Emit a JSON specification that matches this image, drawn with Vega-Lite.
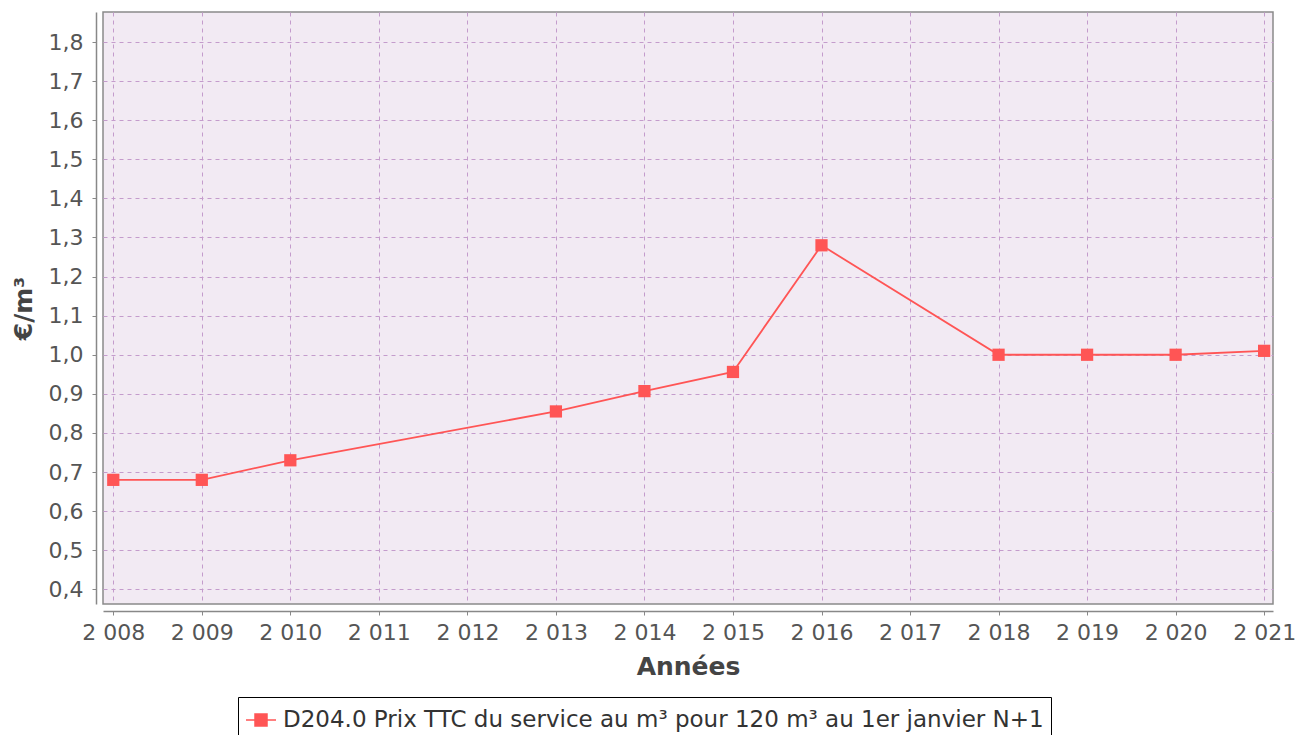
{
  "$schema": "https://vega.github.io/schema/vega-lite/v6.json",
  "autosize": "none",
  "padding": {"left": 103, "top": 12, "right": 25, "bottom": 131},
  "width": 1170,
  "height": 592,
  "background": "white",
  "view": {"fill": "#f2eaf3", "stroke": "#8a8a8a", "strokeWidth": 1.5},
  "config": {"font": "DejaVu Sans"},
  "data": {"values": [
    {"annee": 2008, "prix": 0.68, "serie": "D204.0 Prix TTC du service au m³ pour 120 m³ au 1er janvier N+1"},
    {"annee": 2009, "prix": 0.68, "serie": "D204.0 Prix TTC du service au m³ pour 120 m³ au 1er janvier N+1"},
    {"annee": 2010, "prix": 0.73, "serie": "D204.0 Prix TTC du service au m³ pour 120 m³ au 1er janvier N+1"},
    {"annee": 2013, "prix": 0.855, "serie": "D204.0 Prix TTC du service au m³ pour 120 m³ au 1er janvier N+1"},
    {"annee": 2014, "prix": 0.907, "serie": "D204.0 Prix TTC du service au m³ pour 120 m³ au 1er janvier N+1"},
    {"annee": 2015, "prix": 0.956, "serie": "D204.0 Prix TTC du service au m³ pour 120 m³ au 1er janvier N+1"},
    {"annee": 2016, "prix": 1.28, "serie": "D204.0 Prix TTC du service au m³ pour 120 m³ au 1er janvier N+1"},
    {"annee": 2018, "prix": 1.0, "serie": "D204.0 Prix TTC du service au m³ pour 120 m³ au 1er janvier N+1"},
    {"annee": 2019, "prix": 1.0, "serie": "D204.0 Prix TTC du service au m³ pour 120 m³ au 1er janvier N+1"},
    {"annee": 2020, "prix": 1.0, "serie": "D204.0 Prix TTC du service au m³ pour 120 m³ au 1er janvier N+1"},
    {"annee": 2021, "prix": 1.01, "serie": "D204.0 Prix TTC du service au m³ pour 120 m³ au 1er janvier N+1"}
  ]},
  "encoding": {
    "x": {
      "field": "annee", "type": "quantitative",
      "scale": {"domain": [2007.884, 2021.1], "nice": false, "zero": false},
      "axis": {
        "title": "Années", "titleFontSize": 25, "titleFontWeight": "bold", "titleColor": "#444", "titlePadding": 11,
        "values": [2008, 2009, 2010, 2011, 2012, 2013, 2014, 2015, 2016, 2017, 2018, 2019, 2020, 2021],
        "labelExpr": "substring(toString(datum.value),0,1)+' '+substring(toString(datum.value),1)",
        "labelFontSize": 22, "labelColor": "#555", "labelPadding": 7,
        "offset": 7, "domainColor": "#888", "domainWidth": 1.5, "tickColor": "#888", "tickSize": 4,
        "grid": true, "gridColor": "#c49ccc", "gridDash": [4, 4], "gridWidth": 1
      }
    },
    "y": {
      "field": "prix", "type": "quantitative",
      "scale": {"domain": [0.3624, 1.8768], "nice": false, "zero": false},
      "axis": {
        "title": "€/m³", "titleFontSize": 25, "titleFontWeight": "bold", "titleColor": "#444", "titlePadding": 12,
        "values": [0.4, 0.5, 0.6, 0.7, 0.8, 0.9, 1.0, 1.1, 1.2, 1.3, 1.4, 1.5, 1.6, 1.7, 1.8],
        "labelExpr": "replace(format(datum.value,'.1f'),'.',',')",
        "labelFontSize": 22, "labelColor": "#555", "labelPadding": 9,
        "offset": 7, "domainColor": "#888", "domainWidth": 1.5, "tickColor": "#888", "tickSize": 4,
        "grid": true, "gridColor": "#c49ccc", "gridDash": [4, 4], "gridWidth": 1
      }
    },
    "color": {
      "field": "serie", "type": "nominal",
      "scale": {"range": ["#ff5555"]},
      "legend": {
        "title": null, "orient": "none", "legendX": 135, "legendY": 685,
        "strokeColor": "#000", "padding": 7,
        "labelFontSize": 23, "labelColor": "#333", "labelLimit": 1200, "labelOffset": 6,
        "symbolType": "M-1,0L1,0M-0.4,-0.4L0.4,-0.4L0.4,0.4L-0.4,0.4Z",
        "symbolSize": 900, "symbolStrokeWidth": 1.5, "symbolFillColor": "#ff5555", "symbolStrokeColor": "#ff5555"
      }
    }
  },
  "layer": [
    {"mark": {"type": "line", "strokeWidth": 1.8, "color": "#ff5555"}},
    {"mark": {"type": "square", "size": 150, "opacity": 1, "filled": true, "color": "#ff5555"}}
  ]
}
